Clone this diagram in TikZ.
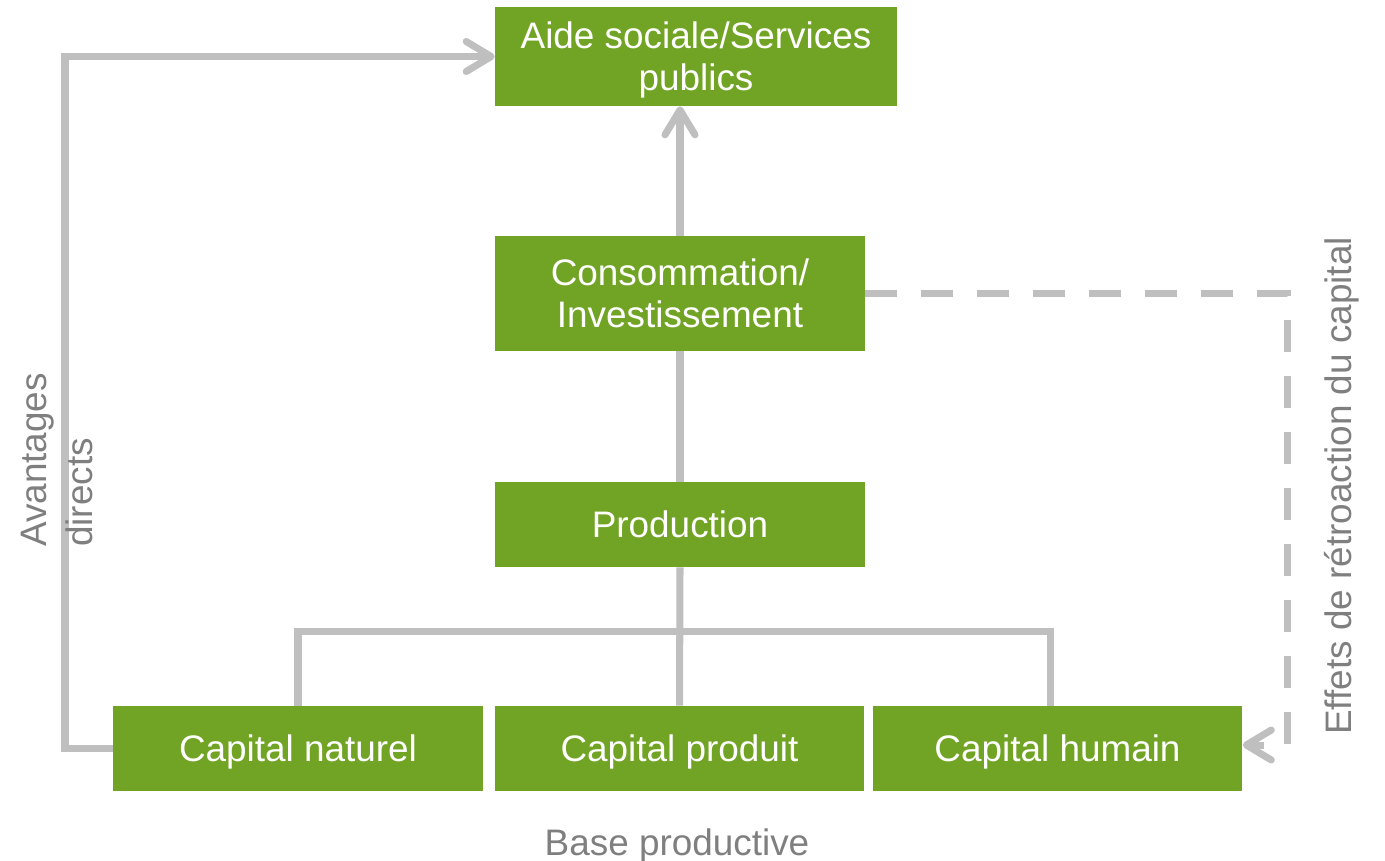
\documentclass[tikz,border=0pt]{standalone}
\usepackage{fontspec}
\setmainfont{Liberation Sans}
\usetikzlibrary{arrows.meta}
\definecolor{boxgreen}{HTML}{71A424}
\definecolor{linegray}{HTML}{BFBFBF}
\definecolor{labelgray}{HTML}{7F7F7F}
\tikzset{
  greenbox/.style={fill=boxgreen, text=white, inner sep=0pt, align=center,
    text depth=0pt, minimum width=7.4cm, font=\fontsize{21}{24}\selectfont},
  link/.style={draw=linegray, line width=4pt},
  barb/.style={-{Straight Barb[length=0.5cm,width=0.6cm,round]}},
  sidelabel/.style={text=labelgray, inner sep=0pt, font=\fontsize{21}{26}\selectfont},
}

\begin{document}
\begin{tikzpicture}[x=0.02cm,y=-0.02cm]
		%%%%% START %%%%%
		\useasboundingbox (0,0) rectangle (1385,860);
		
		\node[greenbox, minimum width=8.04cm, minimum height=1.98cm] (aide) at (696,56.5) {Aide sociale/Services\\publics};
		\node[greenbox, minimum height=2.3cm] (conso) at (680,293.5) {Consommation/\\Investissement};
		\node[greenbox, minimum height=1.7cm] (prod) at (680,524.5) {Production};
		
		\node[greenbox, minimum height=1.7cm] (naturel) at (298,748.5) {Capital naturel};
		\node[greenbox, minimum height=1.7cm] (produit) at (679.5,748.5) {Capital produit};
		\node[greenbox, minimum height=1.7cm] (humain) at (1057.5,748.5) {Capital humain};
		
		\coordinate (leftturn) at (65,56.5);
		\coordinate (rightturn) at (1287,293.5);
		
		\draw[link, barb] (conso.north) -- (conso.north |- aide.south);
		\draw[link] (prod.north) -- (conso.south);
		\draw[link] (produit.north) -- (prod.south);
		\draw[link] (naturel.north) -- ++(0,-74) -| ([xshift=-0.15cm]humain.north);
		
		\draw[link, barb] (naturel.west) -| (leftturn) -- (aide.west);
		\draw[link, barb, dash pattern=on 0.64cm off 0.48cm] (conso.east) -- (rightturn) |- ([yshift=0.07cm]humain.east);
		
		\node[sidelabel, rotate=90, align=left] (avantages) at (57,460) {Avantages\\directs};
		\node[sidelabel, rotate=90] (effets) at (1342,486) {Effets de rétroaction du capital};
		\node[sidelabel, anchor=base] (base) at (677,855) {Base productive};
		%%%%% END %%%%%
	\end{tikzpicture}
\end{document}
